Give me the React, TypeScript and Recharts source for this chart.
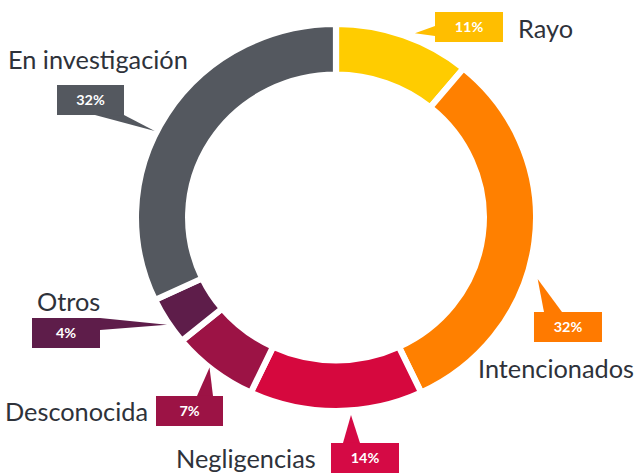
import React from 'react';
import { PieChart, Pie, Cell } from 'recharts';

const categories = ['Rayo', 'Intencionados', 'Negligencias', 'Desconocida', 'Otros', 'En investigación'];
const values = [11, 32, 14, 7, 4, 32];
const colors = ['#FFCC00', '#FF8000', '#D6083E', '#9C1345', '#5E1D4A', '#54585F'];
const boxColors = ['#FFBE00', '#FF7A00', '#D50A45', '#9C1345', '#5E1D4A', '#54585F'];

const data = categories.map((name, i) => ({ name, value: values[i] }));

// the reference is slightly wider than tall: draw a round pie and stretch horizontally
const SX = 1.034;
const W = 634 / SX;
const H = 475;
const CX = 336 / SX;
const CY = 217.5;
const BOX_H = 30;

// label layout, offsets (page pixels) from the pie centre
const layout = [
  { da: -2.7, dr: 6, box: [99, -205.5], w: 68, base: [[0, 14], [0, 24]], text: [182, -179.5] },
  { da: -10.3, dr: 11, box: [198, 94.5], w: 68, base: [[10, 0], [28, 0]], text: [142, 160.5] },
  { da: 4.2, dr: 4.5, box: [-5, 225.5], w: 68, base: [[12, 0], [29, 0]], text: [-160, 250.5] },
  { da: -1.4, dr: 0, box: [-180, 178.5], w: 67, base: [[41, 0], [57, 0]], text: [-331, 203.5] },
  { da: 0.9, dr: 2, box: [-304, 100.5], w: 68, base: [[68, 0], [68, 12]], text: [-299, 93.5] },
  { da: 6.1, dr: 2, box: [-279, -132.5], w: 67, base: [[38, 30], [67, 30]], text: [-328, -148.5] },
];

const RAD = Math.PI / 180;

const renderLabel = (props: any) => {
  const { cx, cy, midAngle, outerRadius, index, value, name } = props;
  const l = layout[index];
  const a = (midAngle + l.da) * RAD;
  const r = outerRadius + l.dr;
  const tx = cx + r * Math.cos(a);
  const ty = cy - r * Math.sin(a);
  const bx = cx + l.box[0] / SX;
  const by = cy + l.box[1];
  const bw = l.w / SX;
  const pts = `${tx},${ty} ${bx + l.base[0][0] / SX},${by + l.base[0][1]} ${bx + l.base[1][0] / SX},${by + l.base[1][1]}`;
  return (
    <g key={`lbl-${index}`}>
      <polygon points={pts} fill={boxColors[index]} />
      <rect x={bx} y={by} width={bw} height={BOX_H} fill={boxColors[index]} />
      <text
        x={bx + bw / 2}
        y={by + BOX_H / 2 + 5}
        textAnchor="middle"
        fill="#ffffff"
        fontFamily="Lato, 'Noto Sans', sans-serif"
        fontWeight={700}
        fontSize={14}
      >
        {`${value}%`}
      </text>
      <text
        x={cx + l.text[0] / SX}
        y={cy + l.text[1]}
        textAnchor="start"
        fill="#2e323a"
        fontFamily="Lato, 'Noto Sans', sans-serif"
        fontSize={24.5}
      >
        {name}
      </text>
    </g>
  );
};

export default function App() {
  return (
    <div
      style={{
        position: 'absolute',
        left: 0,
        top: 0,
        width: W,
        height: H,
        background: '#fff',
        transform: `scaleX(${SX})`,
        transformOrigin: '0 0',
      }}
    >
      <PieChart width={W} height={H} margin={{ top: 0, right: 0, bottom: 0, left: 0 }}>
        <Pie
          data={data}
          dataKey="value"
          nameKey="name"
          cx={CX}
          cy={CY}
          outerRadius={193.5}
          innerRadius={143}
          startAngle={90}
          endAngle={-270}
          stroke="#ffffff"
          strokeWidth={6}
          label={renderLabel}
          labelLine={false}
          isAnimationActive={false}
        >
          {data.map((d, i) => (
            <Cell key={d.name} fill={colors[i]} />
          ))}
        </Pie>
      </PieChart>
    </div>
  );
}
